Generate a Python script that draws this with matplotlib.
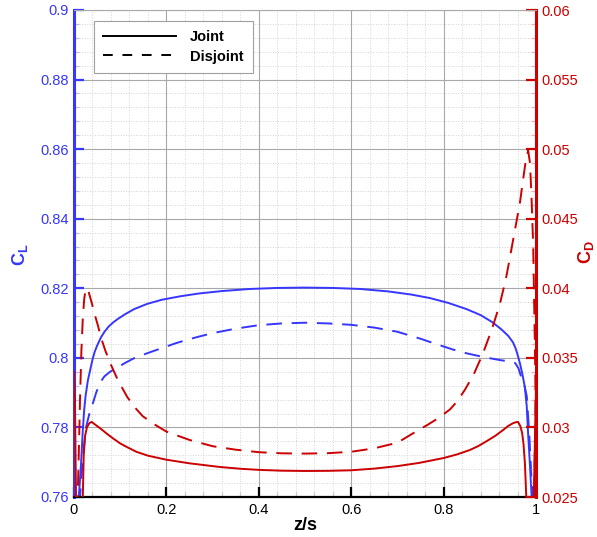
import matplotlib
matplotlib.use("Agg")
import matplotlib.pyplot as plt
from matplotlib.lines import Line2D
from matplotlib.ticker import MultipleLocator, FuncFormatter

plt.rcParams['font.family'] = ['Liberation Sans', 'DejaVu Sans']
plt.rcParams['mathtext.fontset'] = 'custom'
plt.rcParams['mathtext.bf'] = 'Liberation Sans:bold'
plt.rcParams['mathtext.rm'] = 'Liberation Sans'

BLUE = '#3636ff'
RED = '#cc0000'

# CL, joint (solid blue)
z_cl_joint = [0.009, 0.012, 0.015, 0.019, 0.022, 0.025, 0.03, 0.035, 0.04, 0.045, 0.05,
              0.058, 0.066, 0.075, 0.085, 0.095, 0.11, 0.13, 0.158, 0.19, 0.23, 0.27,
              0.32, 0.38, 0.44, 0.5, 0.56, 0.62, 0.68, 0.73, 0.77, 0.81, 0.85, 0.88,
              0.905, 0.925, 0.94, 0.95, 0.956, 0.961, 0.966, 0.971, 0.976, 0.98, 0.983,
              0.987, 0.991, 0.996, 1.0]
cl_joint = [0.758, 0.763, 0.769, 0.779, 0.785, 0.789, 0.7935, 0.7965, 0.7995, 0.8018, 0.8035,
            0.8058, 0.8075, 0.8090, 0.8102, 0.8112, 0.8125, 0.8140, 0.8155, 0.8167, 0.8177, 0.8185,
            0.8192, 0.8198, 0.8201, 0.8202, 0.8201, 0.8198, 0.8191, 0.8182, 0.8172, 0.8158, 0.8140, 0.8123,
            0.8103, 0.8082, 0.8063, 0.8045, 0.8027, 0.8005, 0.7980, 0.7950, 0.7915, 0.7860, 0.7780,
            0.7690, 0.7590, 0.7520, 0.7840]

# CL, disjoint (dashed blue)
z_cl_dis = [0.012, 0.015, 0.018, 0.022, 0.026, 0.033, 0.041, 0.048, 0.056, 0.066, 0.078,
            0.095, 0.11, 0.13, 0.16, 0.19, 0.22, 0.245, 0.27, 0.3, 0.35, 0.4, 0.45, 0.5,
            0.55, 0.6, 0.65, 0.7, 0.75, 0.79, 0.82, 0.85, 0.884, 0.92, 0.945, 0.955,
            0.962, 0.968, 0.975, 0.98, 0.985, 0.99, 0.995, 1.0]
cl_dis = [0.758, 0.764, 0.769, 0.775, 0.780, 0.7838, 0.787, 0.790, 0.7928, 0.7947, 0.7960,
          0.7973, 0.7985, 0.7999, 0.8014, 0.8028, 0.8042, 0.8052, 0.8061, 0.8071, 0.8084, 0.8094, 0.8099, 0.8101,
          0.8099, 0.8095, 0.8087, 0.8075, 0.8055, 0.8037, 0.8024, 0.8013, 0.8003, 0.7994, 0.7989, 0.7985,
          0.7970, 0.7945, 0.7920, 0.7890, 0.7790, 0.7660, 0.7550, 0.7920]

# CD, joint (solid red)
z_cd_joint = [0.0, 0.002, 0.0045, 0.012, 0.019, 0.021, 0.024, 0.028, 0.033, 0.038, 0.044,
              0.05, 0.06, 0.071, 0.085, 0.1, 0.114, 0.135, 0.16, 0.2, 0.25, 0.315, 0.36,
              0.4, 0.45, 0.5, 0.55, 0.6, 0.65, 0.7, 0.747, 0.8, 0.83, 0.857, 0.875, 0.894,
              0.912, 0.929, 0.94, 0.95, 0.956, 0.961, 0.966, 0.97, 0.973, 0.976, 0.978,
              0.98, 0.99, 0.995, 1.0]
cd_joint = [0.034, 0.032, 0.0245, 0.020, 0.0249, 0.0280, 0.0294, 0.0300, 0.0303, 0.0304, 0.03025,
            0.0301, 0.02985, 0.02955, 0.0292, 0.02885, 0.0286, 0.02825, 0.02797, 0.02768, 0.02742, 0.02716, 0.02703,
            0.02695, 0.02689, 0.02687, 0.02688, 0.02692, 0.02704, 0.02722, 0.02745, 0.0278, 0.02807, 0.02838, 0.02866, 0.02903,
            0.0294, 0.02982, 0.03011, 0.0303, 0.03037, 0.0304, 0.0301, 0.0296, 0.0288, 0.0274, 0.0258,
            0.0240, 0.0200, 0.0245, 0.0329]

# CD, disjoint (dashed red)
z_cd_dis = [0.005, 0.008, 0.011, 0.013, 0.016, 0.019, 0.022, 0.025, 0.028, 0.032, 0.038,
            0.045, 0.052, 0.058, 0.068, 0.08, 0.095, 0.115, 0.13, 0.149, 0.175, 0.2, 0.25,
            0.3, 0.35, 0.4, 0.45, 0.5, 0.55, 0.6, 0.65, 0.7, 0.73, 0.766, 0.79, 0.814,
            0.83, 0.846, 0.865, 0.885, 0.905, 0.922, 0.935, 0.944, 0.955, 0.965, 0.972,
            0.978, 0.983, 0.987, 0.99, 0.994, 0.998, 1.0]
cd_dis = [0.024, 0.025, 0.029, 0.032, 0.0355, 0.0378, 0.0392, 0.0399, 0.0400, 0.0397, 0.0390,
          0.0381, 0.0373, 0.0365, 0.0355, 0.0345, 0.0334, 0.0322, 0.0315, 0.0308, 0.0302, 0.0297, 0.0291,
          0.02865, 0.0284, 0.02822, 0.02814, 0.02812, 0.02815, 0.02825, 0.0285, 0.0289, 0.0295, 0.0302, 0.0307, 0.0313,
          0.0319, 0.0327, 0.0338, 0.0353, 0.0371, 0.0389, 0.0407, 0.0423, 0.0443, 0.0461, 0.0478,
          0.0492, 0.0499, 0.0490, 0.0468, 0.0430, 0.0350, 0.0300]

legend_labels = ['Joint', 'Disjoint']

fig = plt.figure(figsize=(5.97, 5.37), dpi=100)
ax = fig.add_axes([74/597, 1-497/537, (536-74)/597, (497-10)/537])
ax2 = ax.twinx()

ax.set_xlim(0, 1)
ax.set_ylim(0.76, 0.9)
ax2.set_ylim(0.025, 0.06)

ax.xaxis.set_major_locator(MultipleLocator(0.2))
ax.xaxis.set_minor_locator(MultipleLocator(0.04))
ax.yaxis.set_major_locator(MultipleLocator(0.02))
ax.yaxis.set_minor_locator(MultipleLocator(0.004))
ax2.yaxis.set_major_locator(MultipleLocator(0.005))
ax2.yaxis.set_minor_locator(MultipleLocator(0.001))
fmt = FuncFormatter(lambda v, p: '%g' % round(v, 4))
ax.xaxis.set_major_formatter(fmt)
ax.yaxis.set_major_formatter(fmt)
ax2.yaxis.set_major_formatter(fmt)

ax.set_axisbelow(True)
ax.grid(which='major', color='#a8a8a8', lw=0.8, ls='-')
ax.grid(which='minor', color='#d4d4d4', lw=0.7, ls=':')

dash = (8, 5)
ax.plot(z_cl_joint, cl_joint, color=BLUE, lw=1.4)
ax.plot(z_cl_dis, cl_dis, color=BLUE, lw=1.4, ls=(0, dash))
ax2.plot(z_cd_joint, cd_joint, color=RED, lw=1.4)
ax2.plot(z_cd_dis, cd_dis, color=RED, lw=1.4, ls=(0, dash))

# spines
for s in ['top', 'right']:
    ax.spines[s].set_visible(False)
ax.spines['left'].set_color(BLUE)
ax.spines['left'].set_linewidth(2.2)
ax.spines['bottom'].set_color('black')
ax.spines['bottom'].set_linewidth(1.6)
ax2.spines['left'].set_visible(False)
ax2.spines['bottom'].set_visible(False)
ax2.spines['top'].set_color('#a8a8a8')
ax2.spines['top'].set_linewidth(0.8)
ax2.spines['right'].set_color(RED)
ax2.spines['right'].set_linewidth(2.2)

ax.tick_params(axis='x', which='major', direction='in', length=7, width=1.6,
               color='black', labelcolor='black', labelsize=10.5, pad=4, top=False)
ax.tick_params(axis='x', which='minor', direction='in', length=3.5, width=0.9,
               color='#c8c8c8', top=False)
ax.tick_params(axis='y', which='major', direction='in', length=7, width=1.6,
               color=BLUE, labelcolor=BLUE, labelsize=10.5, pad=4)
ax.tick_params(axis='y', which='minor', direction='in', length=3.5, width=0.9,
               color='#b8b8ff')
ax2.tick_params(axis='y', which='major', direction='in', length=7, width=1.6,
                color=RED, labelcolor=RED, labelsize=10.5, pad=4)
ax2.tick_params(axis='y', which='minor', direction='in', length=3.5, width=0.9,
                color='#f0b0b0')

fig.text(20/597, 1-255/537, r'$\mathbf{C_L}$', color=BLUE, fontsize=13,
         rotation=90, ha='center', va='center')
fig.text(586/597, 1-252/537, r'$\mathbf{C_D}$', color=RED, fontsize=13,
         rotation=90, ha='center', va='center')
fig.text(305/597, 1-525/537, 'z/s', color='black', fontsize=13, fontweight='bold',
         ha='center', va='center')

handles = [Line2D([], [], color='black', lw=1.4),
           Line2D([], [], color='black', lw=1.4, ls=(0, (5, 5)))]
leg = ax2.legend(handles, legend_labels, loc='upper left',
                 bbox_to_anchor=(20/462, 1-11/487), borderaxespad=0,
                 fancybox=False, framealpha=1, edgecolor='#a0a0a0',
                 prop={'weight': 'bold', 'size': 10.5}, handlelength=5.0,
                 handletextpad=0.9, borderpad=0.65, labelspacing=0.35)
leg.get_frame().set_linewidth(0.8)

fig.savefig('out.png', dpi=100)
